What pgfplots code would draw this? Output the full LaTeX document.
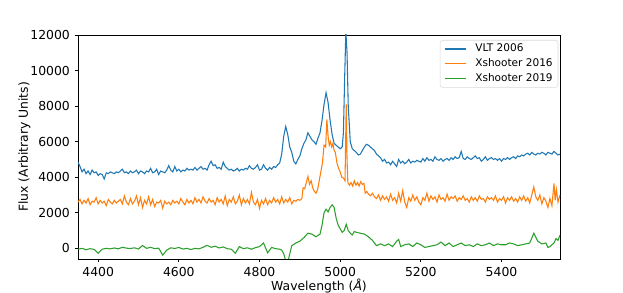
\documentclass[border=0pt]{standalone}
\usepackage{pgfplots}
\pgfplotsset{compat=1.18}
\usepackage{fontspec}
\setmainfont{DejaVu Sans}
\definecolor{c0}{HTML}{1F77B4}
\definecolor{c1}{HTML}{FF7F0E}
\definecolor{c2}{HTML}{2CA02C}
\begin{document}
\begin{tikzpicture}
\path[use as bounding box] (0,0) rectangle (467.25pt,219pt);
\begin{axis}[
  at={(58.5pt,24.75pt)}, anchor=south west,
  scale only axis, width=361.5pt, height=168pt,
  xmin=4350, xmax=5545, ymin=-600, ymax=12000,
  xtick={4400,4600,...,5400}, ytick={0,2000,...,12000},
  scaled y ticks=false, scaled x ticks=false,
  /pgf/number format/.cd, fixed, precision=0, set thousands separator={}, assume math mode=true, /pgfplots/.cd,
  tick label style={font=\fontsize{9.3}{10}\selectfont},
  label style={font=\fontsize{9.3}{10}\selectfont},
  tick align=outside, tick pos=left,
  major tick length=2.6pt,
  axis line style={line width=0.6pt},
  every tick/.style={black, line width=0.6pt},
  xlabel={Wavelength (\textit{Å})},
  ylabel={Flux (Arbitrary Units)},
  xlabel style={yshift=5pt},
  ylabel style={yshift=-7pt},
  legend style={at={(rel axis cs:1,1)}, xshift=-1.3pt, yshift=-3.75pt, anchor=north east,
    draw=black!15, rounded corners=2pt, font=\fontsize{7.9}{8}\selectfont,
    row sep=3.4pt, inner xsep=3pt, inner ysep=2.6pt,
    nodes={inner sep=0pt, text height=6pt, text depth=1.8pt},
    /tikz/every odd column/.append style={column sep=6.2pt}},
  legend cell align=left,
  legend image code/.code={\draw[#1, line width=0.9pt] (0pt,0pt) -- (16.3pt,0pt);},
  every axis plot/.append style={line width=0.8pt},
]
\addplot[c0] coordinates {
(4350,4850)(4355,4600)(4360,4300)(4365,4450)(4370,4200)(4375,4350)(4380,4150)(4385,4400)(4390,4250)(4395,4300)
(4400,4100)(4405,4200)(4410,4150)(4415,3900)(4420,4250)(4425,4200)(4430,4300)(4435,4250)(4440,4200)(4445,4300)
(4450,4250)(4455,4350)(4460,4450)(4465,4250)(4470,4300)(4475,4200)(4480,4350)(4485,4250)(4490,4300)(4495,4400)
(4500,4200)(4505,4350)(4510,4300)(4515,4200)(4520,4350)(4525,4300)(4530,4500)(4535,4250)(4540,4300)(4545,4450)
(4550,4150)(4555,4350)(4560,4300)(4565,4250)(4570,4400)(4575,4650)(4580,4400)(4585,4300)(4590,4600)(4595,4350)
(4600,4450)(4605,4300)(4610,4400)(4615,4350)(4620,4500)(4625,4400)(4630,4450)(4635,4400)(4640,4550)(4645,4400)
(4650,4500)(4655,4600)(4660,4450)(4665,4500)(4670,4400)(4675,4700)(4680,4900)(4685,4650)(4690,4700)(4695,4500)
(4700,4550)(4705,4450)(4710,4850)(4715,4600)(4720,4500)(4725,4400)(4730,4450)(4735,4350)(4740,4400)(4745,4500)
(4750,4350)(4755,4450)(4760,4400)(4765,4500)(4770,4450)(4775,4650)(4780,4500)(4785,4450)(4790,4550)(4795,4700)
(4800,4400)(4805,4450)(4810,4700)(4815,4500)(4820,4400)(4825,4550)(4830,4450)(4835,4600)(4840,4550)(4845,4700)
(4850,4800)(4855,5300)(4860,6300)(4865,6850)(4870,6400)(4875,5700)(4880,5400)(4885,4900)(4890,4750)(4895,5000)
(4900,5200)(4905,5600)(4910,5900)(4915,6100)(4920,6500)(4925,6300)(4930,6100)(4935,6000)(4940,5850)(4945,6200)
(4950,6500)(4955,7200)(4960,8100)(4965,8750)(4970,8200)(4975,7200)(4980,6400)(4985,5900)(4990,5800)(4995,5700)
(5000,5600)(5005,5700)(5008,6500)(5011,9500)(5014,12200)(5017,11000)(5020,8000)(5025,6000)(5030,5600)(5035,5500)
(5040,5400)(5045,5250)(5050,5300)(5055,5500)(5060,5700)(5065,5850)(5070,5800)(5075,5700)(5080,5600)(5085,5500)
(5090,5300)(5095,5200)(5100,5100)(5105,4900)(5110,5000)(5115,4800)(5120,4850)(5125,4700)(5130,4900)(5135,4750)
(5140,4600)(5145,5000)(5150,4800)(5155,4900)(5160,4750)(5165,4850)(5170,5000)(5175,4800)(5180,4900)(5185,4850)
(5190,4950)(5195,4900)(5200,4850)(5205,5050)(5210,4900)(5215,5100)(5220,4950)(5225,5000)(5230,4900)(5235,5150)
(5240,5000)(5245,4950)(5250,5050)(5255,4900)(5260,5000)(5265,5050)(5270,4950)(5275,5100)(5280,5000)(5285,5150)
(5290,5050)(5295,5100)(5300,5450)(5305,5050)(5310,5000)(5315,5150)(5320,5050)(5325,5000)(5330,5100)(5335,5200)
(5340,5050)(5345,5100)(5350,4900)(5355,5000)(5360,5150)(5365,4950)(5370,5050)(5375,5100)(5380,5000)(5385,5050)
(5390,4950)(5395,5050)(5400,4900)(5405,5050)(5410,5000)(5415,5100)(5420,5000)(5425,5100)(5430,5150)(5435,5050)
(5440,5200)(5445,5150)(5450,5250)(5455,5200)(5460,5300)(5465,5350)(5470,5250)(5475,5400)(5480,5300)(5485,5250)
(5490,5350)(5495,5300)(5500,5400)(5505,5350)(5510,5250)(5515,5400)(5520,5350)(5525,5300)(5530,5450)(5535,5350)
(5540,5250)(5545,5300)
};
\addlegendentry{VLT 2006}
\addplot[c1] coordinates {
(4350,2600)(4355,2750)(4360,2500)(4365,2700)(4370,2550)(4375,2800)(4380,2450)(4385,2650)(4390,2600)(4395,2850)
(4400,2500)(4405,2700)(4410,2550)(4415,2650)(4420,2400)(4425,2750)(4430,2600)(4435,2500)(4440,2700)(4445,2550)
(4450,2650)(4455,2750)(4460,2500)(4465,2950)(4470,2600)(4475,2450)(4480,2800)(4485,2500)(4490,2650)(4495,2950)
(4500,2450)(4505,2850)(4510,2300)(4515,2700)(4520,2500)(4525,2900)(4530,2450)(4535,2750)(4540,2350)(4545,2600)
(4550,2550)(4555,2700)(4560,2250)(4565,2650)(4570,2500)(4575,2600)(4580,2450)(4585,2700)(4590,2550)(4595,2650)
(4600,2500)(4605,2800)(4610,2600)(4615,2450)(4620,2750)(4625,2550)(4630,2700)(4635,2500)(4640,2850)(4645,2600)
(4650,2750)(4655,2550)(4660,2900)(4665,2650)(4670,2550)(4675,2800)(4680,2600)(4685,2700)(4690,2450)(4695,2850)
(4700,2600)(4705,2750)(4710,2500)(4715,2950)(4720,2400)(4725,2750)(4730,2600)(4735,2900)(4740,2500)(4745,2650)
(4750,3000)(4755,2450)(4760,2800)(4765,2550)(4770,2750)(4775,2500)(4780,3150)(4785,2600)(4790,2450)(4795,2750)
(4800,2250)(4805,2700)(4810,2500)(4815,2800)(4820,2450)(4825,2700)(4830,2550)(4835,2850)(4840,2600)(4845,2750)
(4850,2500)(4855,2900)(4860,2550)(4865,2750)(4870,2600)(4875,2850)(4880,2500)(4885,2700)(4890,2650)(4895,2750)
(4900,2700)(4905,2800)(4908,3400)(4912,3350)(4916,3700)(4920,4050)(4924,3600)(4928,3800)(4932,3400)(4936,3200)
(4940,3100)(4944,3300)(4948,3800)(4952,4300)(4956,4800)(4960,5800)(4964,5700)(4967,7250)(4970,6300)(4973,5800)
(4976,6000)(4979,5700)(4982,5900)(4985,5500)(4988,5400)(4992,4800)(4996,4500)(5000,4300)(5004,4000)(5008,3950)
(5012,3800)(5015,8100)(5017,5000)(5019,3700)(5023,3550)(5027,3700)(5031,3500)(5035,3800)(5039,3550)(5043,3700)
(5047,3500)(5051,3750)(5055,3600)(5059,3650)(5062,3100)(5066,3200)(5070,3050)(5075,2950)(5080,3100)(5085,2900)
(5090,2800)(5095,3000)(5100,2700)(5105,2950)(5110,2750)(5115,2900)(5120,2650)(5125,3050)(5130,2700)(5135,2850)
(5140,2550)(5145,3100)(5150,2650)(5155,3250)(5160,2600)(5165,2300)(5170,2850)(5175,2650)(5180,3000)(5185,2700)
(5190,2900)(5195,2600)(5200,2450)(5205,2850)(5210,2700)(5215,3100)(5220,2650)(5225,2950)(5230,2750)(5235,2900)
(5240,2600)(5245,3000)(5250,2750)(5255,2850)(5260,2650)(5265,3050)(5270,2700)(5275,2900)(5280,2800)(5285,2950)
(5290,2650)(5295,2850)(5300,2750)(5305,2950)(5310,2700)(5315,2800)(5320,2600)(5325,2900)(5330,2700)(5335,2850)
(5340,2650)(5345,2950)(5350,2750)(5355,2800)(5360,2600)(5365,2900)(5370,2750)(5375,2850)(5380,2700)(5385,2950)
(5390,2600)(5395,2800)(5400,2700)(5405,2900)(5410,2550)(5415,2850)(5420,2700)(5425,2900)(5430,2650)(5435,2800)
(5440,2600)(5445,2900)(5450,2700)(5455,2950)(5460,2650)(5465,2850)(5470,2550)(5475,3000)(5480,3450)(5485,2900)
(5490,2700)(5495,3000)(5500,2500)(5505,2850)(5510,2650)(5515,2300)(5520,2800)(5525,2400)(5530,3650)(5533,2700)
(5536,3300)(5540,2600)(5545,3000)
};
\addlegendentry{Xshooter 2016\hspace*{1pt}}
\addplot[c2] coordinates {
(4350,-50)(4360,0)(4370,-80)(4380,-20)(4390,-60)(4400,-280)(4410,-50)(4420,0)(4430,-30)(4440,20)
(4450,-30)(4460,60)(4470,10)(4480,-10)(4490,30)(4500,-40)(4510,160)(4520,0)(4530,60)(4540,-20)
(4550,10)(4560,-380)(4570,-100)(4580,30)(4590,-10)(4600,50)(4610,-40)(4620,0)(4630,-70)(4640,0)
(4650,-30)(4660,60)(4670,170)(4680,60)(4690,120)(4700,20)(4710,80)(4720,-20)(4730,-50)(4740,-280)
(4750,100)(4760,-20)(4770,30)(4780,-50)(4790,40)(4800,100)(4810,300)(4820,-250)(4830,50)(4840,-20)
(4850,-50)(4855,-100)(4860,-300)(4865,-700)(4870,-800)(4875,-300)(4880,150)(4890,300)(4900,400)(4910,600)
(4920,850)(4930,800)(4940,650)(4950,800)(4955,1300)(4960,2000)(4965,2200)(4970,2050)(4975,2300)(4980,2450)
(4985,2300)(4990,1700)(4995,1300)(5000,1100)(5005,900)(5010,1000)(5015,1350)(5020,1000)(5025,850)(5030,750)
(5035,950)(5040,900)(5050,850)(5060,800)(5070,650)(5080,450)(5090,150)(5100,250)(5110,150)(5120,250)
(5130,100)(5140,400)(5145,500)(5150,100)(5160,200)(5170,250)(5180,100)(5190,300)(5200,200)(5210,50)
(5220,100)(5230,150)(5240,200)(5250,350)(5260,150)(5270,300)(5280,100)(5290,200)(5300,300)(5310,150)
(5320,200)(5330,100)(5340,250)(5350,150)(5360,200)(5370,300)(5380,150)(5390,250)(5400,200)(5410,200)
(5420,300)(5430,250)(5440,150)(5450,200)(5460,250)(5470,300)(5480,850)(5490,400)(5500,250)(5510,300)
(5515,50)(5520,100)(5530,300)(5535,550)(5540,450)(5545,750)
};
\addlegendentry{Xshooter 2019\hspace*{1pt}}
\end{axis}
\end{tikzpicture}
\end{document}
